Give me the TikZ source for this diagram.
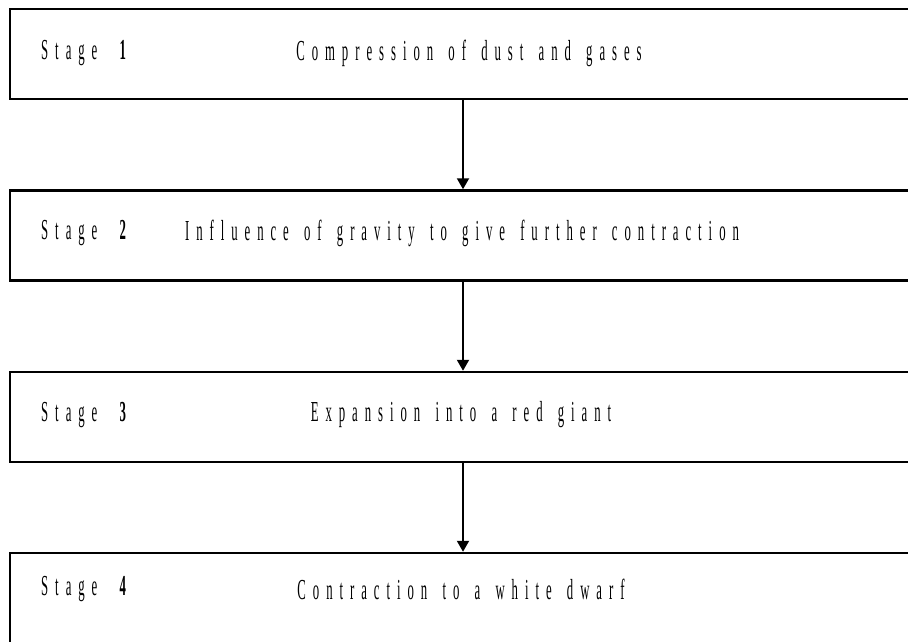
\documentclass[tikz,border=0pt]{standalone}
\usepackage{fontspec}
\usepackage{tikz}
\usetikzlibrary{positioning, arrows.meta}
\newfontfamily\stagefont[FakeStretch=0.44, LetterSpace=24, WordSpace=1.5]{Liberation Serif}

\tikzset{
    stagebox/.style={draw, line width=2.5pt, minimum width=906pt, minimum height=90pt, inner sep=0pt},
    stagetext/.style={font=\stagefont\fontsize{29}{29}\selectfont, inner sep=0pt},
    flow/.style={-{Triangle[width=12pt, length=11pt]}, line width=2pt}
}

\begin{document}
\begin{tikzpicture}[x=1pt, y=-1pt]
            \useasboundingbox (0, 0) rectangle (908, 641);
            \clip (0, 0) rectangle (908, 641);

            \node [stagebox] (S1) at (463, 54) {};
            \node [stagebox] (S2) at (463, 235.5) {};
            \node [stagebox] (S3) at (463, 417) {};
            \node [stagebox] (S4) at (463, 598) {};

            \node [stagetext, anchor=west] (L1) at (41, 53) {Stage \textbf{1}};
            \node [stagetext, anchor=west] (L2) at (41, 233) {Stage \textbf{2}};
            \node [stagetext, anchor=west] (L3) at (41, 415) {Stage \textbf{3}};
            \node [stagetext, anchor=west] (L4) at (41, 589) {Stage \textbf{4}};

            \node [stagetext] (T1) at (469, 53) {Compression of dust and gases};
            \node [stagetext] (T2) at (462, 233) {Influence of gravity to give further contraction};
            \node [stagetext] (T3) at (461, 415) {Expansion into a red giant};
            \node [stagetext] (T4) at (461, 589) {Contraction to a white dwarf};

            \draw [flow] (S1) -- (S2);
            \draw [flow] (S2) -- (S3);
            \draw [flow] (S3) -- (S4);
        \end{tikzpicture}
\end{document}
